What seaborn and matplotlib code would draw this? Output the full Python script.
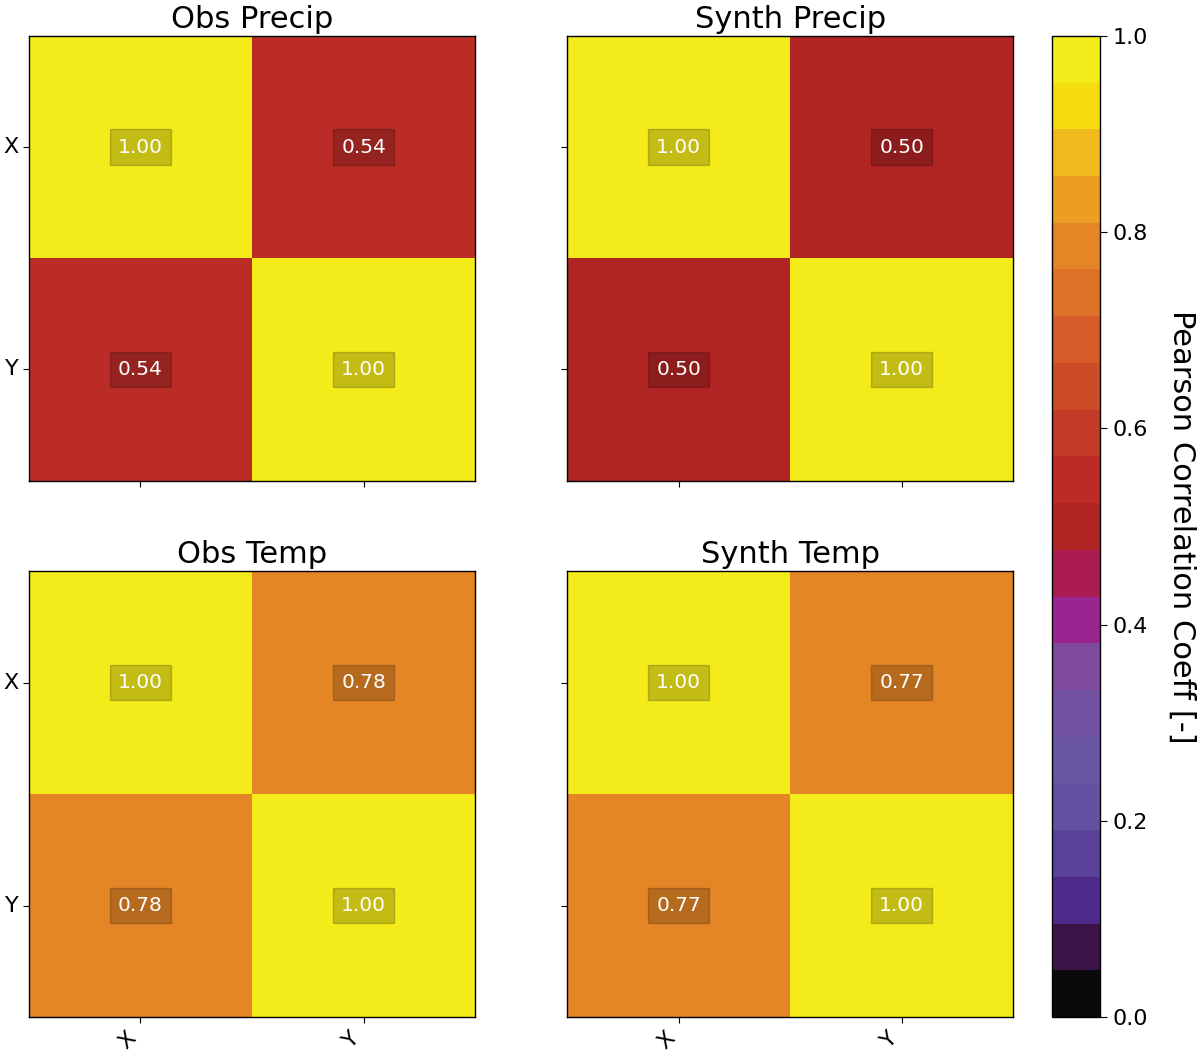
import numpy as np
import pandas as pd
import seaborn as sns
import matplotlib.pyplot as plt
from matplotlib.colors import ListedColormap

# variables and correlation matrices
labels = ["X", "Y"]
obs_precip = [[1.00, 0.54], [0.54, 1.00]]
synth_precip = [[1.00, 0.50], [0.50, 1.00]]
obs_temp = [[1.00, 0.78], [0.78, 1.00]]
synth_temp = [[1.00, 0.77], [0.77, 1.00]]
titles = ["Obs Precip", "Synth Precip", "Obs Temp", "Synth Temp"]

# discrete colours, bottom (0.0) to top (1.0)
band_colors = ["#0a0a0a", "#3a1448", "#4f2a8a", "#5a4299", "#6252a1", "#6856a3",
               "#7152a2", "#804a9c", "#9b2490", "#aa1c52", "#b12424", "#bb2c27",
               "#c43a28", "#cd4b29", "#d65c29", "#df7127", "#e48526", "#eb9e22",
               "#f0ba1f", "#f5dc0c", "#f3ec1a"]
cmap = ListedColormap(band_colors)

fig = plt.figure(figsize=(12, 10.54), dpi=100)
positions = [[0.024, 0.544, 0.372, 0.422], [0.4725, 0.544, 0.372, 0.422],
             [0.024, 0.035, 0.372, 0.423], [0.4725, 0.035, 0.372, 0.423]]
cax = fig.add_axes([0.877, 0.035, 0.040, 0.931])

mats = [obs_precip, synth_precip, obs_temp, synth_temp]
annot_kws = {"color": "white", "fontsize": 14.5,
             "bbox": dict(boxstyle="square,pad=0.4", facecolor="black", alpha=0.2)}

for i, (mat, title, pos) in enumerate(zip(mats, titles, positions)):
    ax = fig.add_axes(pos)
    df = pd.DataFrame(mat, index=labels, columns=labels)
    sns.heatmap(df, ax=ax, cmap=cmap, vmin=0, vmax=1, annot=True, fmt=".2f",
                annot_kws=annot_kws, cbar=(i == 0), cbar_ax=cax if i == 0 else None)
    for sp in ax.spines.values():
        sp.set_visible(True)
        sp.set_linewidth(1.0)
    ax.set_title(title, fontsize=22)
    ax.tick_params(labelsize=16, length=4)
    if i < 2:
        ax.set_xticklabels([])
    else:
        plt.setp(ax.get_xticklabels(), rotation=45, ha="right")
    if i % 2 == 1:
        ax.set_yticklabels([])
    else:
        plt.setp(ax.get_yticklabels(), rotation=0)

cb = fig.axes[1].collections[0].colorbar
cb.outline.set_linewidth(1.0)
cb.outline.set_edgecolor("black")
cb.ax.tick_params(labelsize=16, length=5)
cb.set_label("Pearson Correlation Coeff [-]", rotation=270, fontsize=22, labelpad=35)

fig.savefig("out.png", dpi=100)
